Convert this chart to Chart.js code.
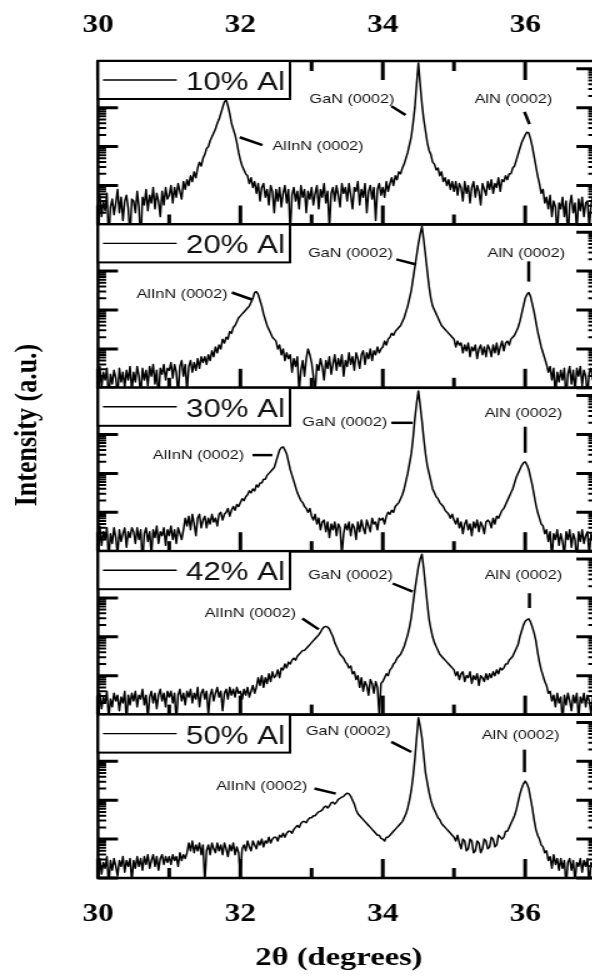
<!DOCTYPE html>
<html>
<head>
<meta charset="utf-8">
<script src="https://cdn.jsdelivr.net/npm/chart.js@4/dist/chart.umd.min.js"></script>
<style>
  html, body { margin: 0; padding: 0; overflow: hidden; background: #fff; }
  #wrap { position: relative; width: 592px; height: 976px; overflow: hidden; }
  /* the original figure is stretched sideways, so the canvas is too */
  #xrd { position: absolute; left: 0; top: 0; transform: scaleX(1.25); transform-origin: 0 0; }
</style>
</head>
<body>
<div id="wrap"><canvas id="xrd" width="484" height="976"></canvas></div>
<script>
// 2-theta grid, degrees
var angles = [
  30.000,30.025,30.050,30.075,30.100,30.125,30.150,30.175,30.200,30.225,30.250,30.275,30.300,30.325,30.350,30.375,30.400,30.425,30.450,30.475,
  30.500,30.525,30.550,30.575,30.600,30.625,30.650,30.675,30.700,30.725,30.750,30.775,30.800,30.825,30.850,30.875,30.900,30.925,30.950,30.975,
  31.000,31.025,31.050,31.075,31.100,31.125,31.150,31.175,31.200,31.225,31.250,31.275,31.300,31.325,31.350,31.375,31.400,31.425,31.450,31.475,
  31.500,31.525,31.550,31.575,31.600,31.625,31.650,31.675,31.700,31.725,31.750,31.775,31.800,31.825,31.850,31.875,31.900,31.925,31.950,31.975,
  32.000,32.025,32.050,32.075,32.100,32.125,32.150,32.175,32.200,32.225,32.250,32.275,32.300,32.325,32.350,32.375,32.400,32.425,32.450,32.475,
  32.500,32.525,32.550,32.575,32.600,32.625,32.650,32.675,32.700,32.725,32.750,32.775,32.800,32.825,32.850,32.875,32.900,32.925,32.950,32.975,
  33.000,33.025,33.050,33.075,33.100,33.125,33.150,33.175,33.200,33.225,33.250,33.275,33.300,33.325,33.350,33.375,33.400,33.425,33.450,33.475,
  33.500,33.525,33.550,33.575,33.600,33.625,33.650,33.675,33.700,33.725,33.750,33.775,33.800,33.825,33.850,33.875,33.900,33.925,33.950,33.975,
  34.000,34.025,34.050,34.075,34.100,34.125,34.150,34.175,34.200,34.225,34.250,34.275,34.300,34.325,34.350,34.375,34.400,34.425,34.450,34.475,
  34.500,34.525,34.550,34.575,34.600,34.625,34.650,34.675,34.700,34.725,34.750,34.775,34.800,34.825,34.850,34.875,34.900,34.925,34.950,34.975,
  35.000,35.025,35.050,35.075,35.100,35.125,35.150,35.175,35.200,35.225,35.250,35.275,35.300,35.325,35.350,35.375,35.400,35.425,35.450,35.475,
  35.500,35.525,35.550,35.575,35.600,35.625,35.650,35.675,35.700,35.725,35.750,35.775,35.800,35.825,35.850,35.875,35.900,35.925,35.950,35.975,
  36.000,36.025,36.050,36.075,36.100,36.125,36.150,36.175,36.200,36.225,36.250,36.275,36.300,36.325,36.350,36.375,36.400,36.425,36.450,36.475,
  36.500,36.525,36.550,36.575,36.600,36.625,36.650,36.675,36.700,36.725,36.750,36.775,36.800,36.825,36.850,36.875,36.900,36.925,36.950,36.975,
  37.000
];

// log10(intensity) for each sample
var al10 = [
  1.5,1.75,1.2,1.6,1.35,1.8,0.6,1.45,1.65,1.25,1.55,1.9,1.3,1.7,1.1,1.6,1.75,1.4,0.7,1.65,
  1.6,1.3,1.85,1.45,0.5,1.7,1.5,1.9,1.35,1.75,1.55,1.95,1.4,1.8,1.6,1.2,1.85,1.5,1.95,1.65,
  1.75,2.0,1.55,1.95,1.7,2.05,1.85,1.65,2.1,1.9,2.15,2.0,2.25,2.1,2.35,2.2,2.45,2.6,2.5,2.7,
  2.8,2.95,3.0,3.15,3.25,3.35,3.45,3.6,3.7,3.85,4.0,4.15,4.2,4.05,3.85,3.6,3.45,3.3,3.1,2.85,
  2.65,2.5,2.4,2.3,2.25,2.05,2.2,1.95,2.1,1.8,2.05,1.6,1.95,2.05,1.7,1.9,1.5,2.0,1.85,1.3,
  1.9,1.6,1.95,1.45,1.8,2.0,1.55,1.9,0.8,1.75,1.95,1.6,1.85,1.4,2.0,1.7,1.9,1.3,1.85,1.65,
  1.95,1.5,1.8,2.0,1.4,1.9,1.7,2.05,1.55,1.85,0.9,1.8,1.95,1.6,2.0,1.75,1.45,2.05,1.8,1.95,
  1.6,2.05,1.75,1.4,1.95,1.85,2.1,1.5,1.9,1.7,2.05,1.3,1.85,2.0,1.65,1.95,1.1,1.9,2.05,1.75,
  1.95,1.7,2.1,1.85,2.05,2.2,2.0,2.25,2.15,2.35,2.3,2.45,2.55,2.7,2.85,3.05,3.25,3.6,4.0,4.6,
  5.15,4.6,4.1,3.7,3.4,3.1,2.9,2.8,2.6,2.55,2.4,2.45,2.25,2.35,2.1,2.2,2.0,2.15,1.9,2.1,
  1.85,2.1,1.75,2.05,1.95,1.6,2.1,1.8,2.0,1.55,1.95,2.1,1.7,2.0,1.85,1.5,2.05,1.9,1.75,2.1,
  1.9,2.15,1.8,2.05,1.95,2.2,1.85,2.15,2.1,2.25,2.15,2.3,2.3,2.45,2.5,2.65,2.8,2.95,3.1,3.2,
  3.3,3.37,3.35,3.2,3.0,2.75,2.5,2.25,2.05,1.8,1.9,1.55,1.7,1.4,1.75,1.2,1.6,1.45,0.7,1.55,
  1.4,1.7,1.2,1.6,0.6,1.5,1.75,1.3,1.55,0.8,1.65,1.35,1.7,1.2,1.55,1.6,0.9,1.5,1.7,1.3,
  1.45
];
var al20 = [
  1.3,1.55,1.0,1.4,1.2,1.5,0.7,1.35,1.1,1.45,1.25,0.8,1.5,1.15,1.4,1.0,1.45,1.2,1.55,0.9,
  1.4,1.15,1.55,1.3,0.8,1.5,1.2,1.45,1.05,1.55,1.3,1.6,1.1,1.45,0.7,1.5,1.35,1.6,1.2,1.5,
  1.45,1.65,1.25,1.6,1.4,0.8,1.55,1.7,1.3,1.6,0.9,1.55,1.7,1.4,1.65,1.45,1.75,1.5,1.8,1.65,
  1.8,1.6,1.85,1.7,1.95,1.8,2.05,1.9,2.1,2.0,2.25,2.15,2.3,2.25,2.45,2.4,2.55,2.6,2.7,2.8,
  2.85,2.9,2.95,3.0,3.05,3.1,3.2,3.3,3.45,3.47,3.4,3.25,3.1,2.9,2.75,2.6,2.5,2.4,2.3,2.25,
  2.2,2.0,2.1,1.85,2.0,1.7,1.9,1.75,1.85,1.4,1.75,1.55,1.8,0.9,1.45,1.7,1.3,1.75,2.0,1.85,
  1.65,1.3,0.9,1.6,1.45,1.75,1.55,1.2,1.7,1.5,1.8,1.35,1.6,1.85,1.45,1.75,1.55,1.85,1.3,1.7,
  1.55,1.9,1.6,1.8,1.45,1.9,1.75,1.5,1.85,1.95,1.6,1.9,1.75,2.0,1.7,1.95,1.85,2.05,1.9,2.0,
  2.05,2.2,2.1,2.25,2.3,2.4,2.35,2.45,2.5,2.55,2.6,2.7,2.8,2.95,3.1,3.3,3.5,3.8,4.1,4.4,
  4.7,4.95,5.15,4.8,4.4,4.0,3.6,3.3,3.1,3.0,2.9,2.8,2.7,2.6,2.55,2.5,2.45,2.4,2.35,2.3,
  2.25,2.05,2.2,2.1,2.15,1.9,2.1,1.95,2.15,1.8,2.05,1.95,2.1,1.75,2.0,2.1,1.85,2.05,1.8,2.1,
  2.0,1.8,2.1,1.9,2.15,1.85,2.05,2.2,1.95,2.15,2.2,2.1,2.25,2.3,2.35,2.45,2.55,2.7,2.9,3.1,
  3.3,3.4,3.45,3.35,3.15,2.95,2.7,2.45,2.25,2.05,1.9,1.75,1.6,1.4,1.55,1.2,1.5,0.8,1.4,1.15,
  1.45,1.2,1.5,0.7,1.35,1.55,1.1,1.45,0.9,1.5,1.3,1.55,1.05,1.45,1.3,0.8,1.4,1.5,1.2,1.45,
  1.3
];
var al30 = [
  1.4,1.65,1.15,1.5,1.3,1.6,0.8,1.45,1.2,1.6,1.35,0.9,1.55,1.25,1.45,1.6,1.1,1.5,1.35,1.6,
  1.5,1.2,1.6,1.3,1.55,0.7,1.45,1.6,1.25,1.5,0.9,1.55,1.35,1.65,1.2,1.5,1.4,1.6,1.15,1.55,
  1.4,1.65,1.3,1.55,1.2,1.6,1.45,1.3,1.55,1.85,1.65,1.9,1.55,1.95,1.7,1.4,1.85,1.95,1.6,1.8,
  1.9,1.6,1.85,1.7,1.95,1.75,1.85,1.65,1.95,2.0,1.8,1.95,2.0,2.1,1.9,2.05,2.15,2.05,2.2,2.15,
  2.25,2.35,2.3,2.4,2.45,2.55,2.5,2.6,2.55,2.7,2.65,2.75,2.75,2.85,2.85,2.95,3.0,3.05,3.1,3.15,
  3.3,3.45,3.6,3.66,3.68,3.6,3.5,3.3,3.1,2.95,2.8,2.65,2.5,2.4,2.3,2.25,2.15,2.1,2.0,2.1,
  1.9,1.8,1.95,1.7,1.85,1.55,1.75,1.8,1.5,1.75,1.35,1.7,1.55,1.75,1.4,1.7,1.6,0.9,1.45,1.7,
  1.55,1.75,1.4,1.7,1.6,1.3,1.75,1.5,1.8,1.6,1.45,1.8,1.65,1.5,1.85,1.7,1.75,1.55,1.85,1.8,
  1.85,1.7,1.9,2.0,1.95,2.05,2.0,2.15,2.2,2.25,2.35,2.45,2.6,2.8,3.0,3.25,3.5,3.9,4.4,4.8,
  5.12,4.75,4.35,3.9,3.5,3.2,3.0,2.8,2.6,2.5,2.4,2.35,2.25,2.2,2.15,2.05,2.0,1.95,1.85,1.95,
  1.8,1.7,1.85,1.6,1.75,1.45,1.7,1.8,1.55,1.7,1.4,1.75,1.6,1.8,1.5,1.75,1.65,1.45,1.75,1.8,
  1.75,1.6,1.85,1.7,1.9,1.85,1.95,2.05,2.1,2.2,2.3,2.4,2.5,2.6,2.75,2.9,3.0,3.1,3.2,3.27,
  3.3,3.22,3.1,2.9,2.7,2.45,2.2,2.0,1.85,1.7,1.65,1.45,1.55,1.25,1.5,0.8,1.45,1.3,1.55,1.15,
  1.45,1.25,0.9,1.5,1.3,1.55,1.1,1.45,1.3,0.7,1.5,1.25,1.55,1.2,1.4,1.5,0.9,1.45,1.3,1.55,
  1.4
];
var al42 = [
  1.4,1.55,1.15,1.45,1.3,1.6,0.9,1.4,1.2,1.55,1.35,1.5,1.1,1.45,1.3,1.6,0.8,1.5,1.25,1.55,
  1.35,1.6,1.2,1.5,1.4,1.65,1.25,1.5,0.9,1.45,1.6,1.3,1.55,1.15,1.5,1.65,1.35,1.55,1.2,1.6,
  1.45,1.6,1.3,1.55,0.8,1.5,1.65,1.35,1.55,1.25,1.6,1.45,1.65,1.3,1.55,1.4,1.7,1.2,1.55,1.65,
  1.4,1.6,1.0,1.5,1.65,1.35,1.55,1.7,1.45,1.6,1.1,1.55,1.65,1.4,1.7,1.5,1.65,1.45,1.7,1.55,
  1.6,1.4,1.65,1.5,1.7,1.45,1.6,1.75,1.55,1.7,1.95,1.75,2.0,1.7,1.95,1.8,2.05,1.85,2.1,1.95,
  2.0,2.15,1.95,2.2,2.15,2.3,2.2,2.35,2.3,2.4,2.45,2.4,2.5,2.55,2.6,2.65,2.65,2.7,2.75,2.8,
  2.85,2.9,2.95,3.0,3.05,3.12,3.2,3.25,3.27,3.25,3.2,3.1,3.0,2.85,2.75,2.65,2.55,2.5,2.45,2.35,
  2.3,2.2,2.25,2.05,2.1,1.9,2.0,1.7,1.95,1.6,1.85,1.75,1.5,1.9,1.8,1.55,1.85,1.7,1.0,1.8,
  1.85,1.95,2.05,2.0,2.15,2.2,2.3,2.35,2.45,2.5,2.55,2.65,2.75,2.9,3.05,3.25,3.5,3.85,4.2,4.5,
  4.8,5.0,5.12,4.75,4.3,3.85,3.45,3.2,3.0,2.85,2.75,2.65,2.55,2.5,2.45,2.4,2.35,2.3,2.25,2.2,
  2.15,2.0,2.1,1.9,2.05,2.1,1.85,2.0,1.95,2.1,1.8,2.0,1.9,2.05,1.75,2.0,1.95,1.85,2.05,1.9,
  2.05,1.95,2.1,2.0,2.15,2.05,2.2,2.15,2.2,2.3,2.3,2.4,2.45,2.5,2.6,2.7,2.8,3.0,3.15,3.3,
  3.4,3.44,3.46,3.38,3.25,3.1,2.9,2.6,2.35,2.15,2.0,1.85,1.75,1.55,1.6,1.35,1.5,1.2,1.55,1.3,
  1.45,0.8,1.5,1.25,1.55,1.35,1.1,1.5,1.3,1.55,0.9,1.45,1.3,1.55,1.2,1.5,1.35,1.0,1.45,1.25,
  1.35
];
var al50 = [
  1.35,1.5,1.1,1.4,1.25,1.55,0.8,1.45,1.2,1.5,1.3,1.05,1.45,1.3,1.55,1.15,1.45,1.3,1.5,0.9,
  1.45,1.25,1.55,1.3,1.5,1.2,1.55,1.35,1.6,1.25,1.45,1.6,1.3,1.55,1.2,1.5,1.6,1.35,1.55,1.4,
  1.55,1.35,1.6,1.45,1.55,1.3,1.65,1.45,1.6,1.5,1.65,1.9,1.7,1.95,1.65,1.85,1.7,1.9,1.6,1.85,
  0.9,1.7,1.85,1.6,1.9,1.75,1.65,1.9,1.7,1.85,1.6,1.9,1.75,1.55,1.85,1.7,1.9,1.6,1.8,1.65,
  1.1,1.75,1.85,1.7,1.95,1.8,1.7,1.95,1.85,1.75,1.95,1.85,2.0,1.8,1.95,1.9,2.05,1.9,2.0,2.05,
  2.05,1.95,2.1,2.05,2.15,2.05,2.15,2.2,2.2,2.15,2.25,2.3,2.35,2.3,2.4,2.45,2.45,2.42,2.5,2.55,
  2.55,2.6,2.6,2.66,2.7,2.72,2.75,2.82,2.85,2.8,2.85,2.93,2.95,2.9,2.95,3.02,3.05,3.08,3.1,3.15,
  3.18,3.16,3.1,3.0,2.9,2.75,2.65,2.6,2.55,2.5,2.45,2.4,2.35,2.3,2.25,2.2,2.15,2.1,2.1,2.02,
  2.0,1.95,2.05,2.05,2.1,2.15,2.2,2.25,2.3,2.35,2.4,2.45,2.55,2.65,2.8,3.0,3.25,3.6,4.05,4.6,
  5.12,4.9,4.6,4.15,3.7,3.45,3.2,3.0,2.85,2.75,2.65,2.55,2.5,2.4,2.35,2.3,2.25,2.2,2.15,2.1,
  2.05,1.95,2.1,1.9,1.75,2.0,1.95,1.7,1.75,2.0,1.95,1.65,1.7,1.95,1.9,1.65,1.75,2.0,1.95,1.75,
  1.8,2.05,2.0,1.8,1.85,2.1,2.05,2.0,2.05,2.2,2.2,2.3,2.4,2.5,2.6,2.75,2.95,3.15,3.3,3.42,
  3.49,3.42,3.3,3.05,2.8,2.5,2.25,2.1,2.0,1.85,1.8,1.65,1.7,1.45,1.55,1.25,1.6,1.35,1.5,1.2,
  1.5,1.25,1.45,0.8,1.4,1.5,1.2,1.45,0.9,1.4,1.3,1.5,1.15,1.45,1.3,1.5,0.8,1.4,1.3,1.5,
  1.3
];

var sampleLabels = ['10% Al', '20% Al', '30% Al', '42% Al', '50% Al'];
var sampleSeries = [al10, al20, al30, al42, al50];
var xTicks = [30, 32, 34, 36];

// peak notes: panel, text, text x/y, leader line x1,y1,x2,y2 (data units)
var peakNotes = [
  [0, 'GaN (0002)',   32.97, 4.22, 34.12, 4.04, 34.32, 3.81],
  [0, 'AlN (0002)',   35.29, 4.20, 35.99, 3.89, 36.06, 3.58],
  [0, 'AlInN (0002)', 32.45, 3.01, 31.99, 3.24, 32.31, 3.04],
  [1, 'GaN (0002)',   32.95, 4.45, 34.19, 4.30, 34.47, 4.17],
  [1, 'AlN (0002)',   35.47, 4.45, 36.05, 4.25, 36.05, 3.73],
  [1, 'AlInN (0002)', 30.54, 3.40, 31.88, 3.45, 32.16, 3.27],
  [2, 'GaN (0002)',   32.87, 4.30, 34.12, 4.30, 34.42, 4.30],
  [2, 'AlN (0002)',   35.43, 4.53, 36.00, 4.20, 36.00, 3.53],
  [2, 'AlInN (0002)', 30.77, 3.45, 32.17, 3.47, 32.45, 3.47],
  [3, 'GaN (0002)',   32.95, 4.58, 34.14, 4.37, 34.42, 4.16],
  [3, 'AlN (0002)',   35.43, 4.58, 36.06, 4.12, 36.06, 3.74],
  [3, 'AlInN (0002)', 31.50, 3.60, 32.87, 3.47, 33.10, 3.19],
  [4, 'GaN (0002)',   32.92, 4.76, 34.12, 4.50, 34.40, 4.24],
  [4, 'AlN (0002)',   35.39, 4.66, 35.99, 4.30, 35.99, 3.72],
  [4, 'AlInN (0002)', 31.66, 3.35, 33.04, 3.30, 33.34, 3.17]
];

var serif = '"Liberation Serif", "Times New Roman", serif';
var sans = '"Liberation Sans", Arial, sans-serif';

var panelIds = sampleLabels.map(function (l, i) { return 'p' + (i + 1); });

var datasets = sampleSeries.map(function (ys, i) {
  return {
    label: sampleLabels[i],
    yAxisID: panelIds[i],
    data: angles.map(function (a, j) { return { x: a, y: ys[j] }; }),
    borderColor: '#000',
    borderWidth: 1.5,
    borderJoinStyle: 'round',
    pointRadius: 0,
    tension: 0,
    fill: false
  };
});

var xTickOpts = {
  stepSize: 2,
  includeBounds: false,
  autoSkip: false,
  maxRotation: 0,
  color: '#000',
  font: { family: serif, size: 25, weight: 'bold' },
  callback: function (v) { return xTicks.indexOf(v) >= 0 ? String(v) : ''; }
};

var scales = {
  x: {
    type: 'linear', position: 'bottom', min: 30, max: 37,
    ticks: Object.assign({}, xTickOpts, { padding: 22 }),
    grid: { display: false, drawTicks: false },
    border: { display: false },
    afterFit: function (s) { s.height = 98; }
  },
  x2: {
    type: 'linear', position: 'top', min: 30, max: 37,
    ticks: Object.assign({}, xTickOpts, { padding: 20 }),
    grid: { display: false, drawTicks: false },
    border: { display: false },
    afterFit: function (s) { s.height = 61; }
  }
};
panelIds.forEach(function (id, i) {
  scales[id] = {
    type: 'linear', position: 'left', stack: 'xrd', stackWeight: 1, weight: 4 - i,
    min: 1, max: 5.2,
    ticks: { display: false },
    grid: { display: false, drawTicks: false },
    border: { display: false },
    afterFit: function (s) { s.width = 78.4; }
  };
});

// frame, inward ticks, per-panel legend box, peak labels, axis titles
var panelDecor = {
  id: 'panelDecor',
  beforeDatasetDraw: function (chart, args) {
    var s = chart.scales[args.meta.yAxisID], a = chart.chartArea, ctx = chart.ctx;
    ctx.save();
    ctx.beginPath();
    ctx.rect(a.left, s.top, a.right - a.left, s.bottom - s.top);
    ctx.clip();
  },
  afterDatasetDraw: function (chart) {
    chart.ctx.restore();
  },
  afterDatasetsDraw: function (chart) {
    var ctx = chart.ctx, a = chart.chartArea, xs = chart.scales.x;
    ctx.save();
    ctx.strokeStyle = '#000';
    ctx.lineCap = 'butt';

    panelIds.forEach(function (id, i) {
      var s = chart.scales[id];
      var v, n, k, px, py, len;

      // x ticks: bottom of every panel, top only on the first one
      ctx.lineWidth = 3;
      for (v = 30; v <= 37; v++) {
        px = xs.getPixelForValue(v);
        len = v % 2 === 0 ? 19 : 10;
        ctx.beginPath();
        if (i === 0) {
          ctx.moveTo(px, s.top); ctx.lineTo(px, s.top + len);
        }
        ctx.moveTo(px, s.bottom); ctx.lineTo(px, s.bottom - len);
        ctx.stroke();
      }

      // log ticks left and right
      for (n = 1; n <= 5; n++) {
        for (k = 1; k <= 9; k++) {
          v = n + Math.log10(k);
          if (v > s.max) continue;
          py = s.getPixelForValue(v);
          len = k === 1 ? 16 : 6.5;
          ctx.lineWidth = k === 1 ? 3 : 2;
          ctx.beginPath();
          ctx.moveTo(a.left, py); ctx.lineTo(a.left + len, py);
          ctx.moveTo(a.right, py); ctx.lineTo(a.right - len, py);
          ctx.stroke();
        }
      }

      // panel frame
      ctx.lineWidth = 2.5;
      ctx.strokeRect(a.left, s.top, a.right - a.left, s.bottom - s.top);

      // legend box
      ctx.fillStyle = '#fff';
      ctx.fillRect(a.left, s.top, 153.6, 38);
      ctx.lineWidth = 2;
      ctx.strokeRect(a.left, s.top, 153.6, 38);
      ctx.lineWidth = 1.4;
      ctx.beginPath();
      ctx.moveTo(a.left + 4, s.top + 19);
      ctx.lineTo(a.left + 63, s.top + 19);
      ctx.stroke();
      ctx.fillStyle = '#111';
      ctx.font = '25px ' + sans;
      ctx.textAlign = 'left';
      ctx.textBaseline = 'alphabetic';
      ctx.fillText(chart.data.datasets[i].label, a.left + 70.4, s.top + 29);
    });

    // peak labels with leader lines
    ctx.font = '13px ' + sans;
    ctx.textBaseline = 'middle';
    ctx.fillStyle = '#111';
    peakNotes.forEach(function (p) {
      var s = chart.scales[panelIds[p[0]]];
      ctx.fillText(p[1], xs.getPixelForValue(p[2]), s.getPixelForValue(p[3]));
      ctx.lineWidth = 2.5;
      ctx.beginPath();
      ctx.moveTo(xs.getPixelForValue(p[4]), s.getPixelForValue(p[5]));
      ctx.lineTo(xs.getPixelForValue(p[6]), s.getPixelForValue(p[7]));
      ctx.stroke();
    });

    // x title under the bottom tick labels
    ctx.fillStyle = '#000';
    ctx.textAlign = 'center';
    ctx.font = 'bold 26px ' + serif;
    ctx.fillText('2θ (degrees)', 271.2, 958);

    // y title spanning all panels
    ctx.translate(22.4, 425);
    ctx.rotate(-Math.PI / 2);
    ctx.fillText('Intensity (a.u.)', 0, 0);
    ctx.restore();
  }
};

new Chart(document.getElementById('xrd'), {
  type: 'line',
  data: { datasets: datasets },
  options: {
    responsive: false,
    animation: false,
    events: [],
    devicePixelRatio: 1,
    layout: { padding: { left: 0, right: 6.9, top: 0, bottom: 0 } },
    plugins: { legend: { display: false }, tooltip: { enabled: false }, title: { display: false } },
    scales: scales
  },
  plugins: [panelDecor]
});
</script>
</body>
</html>
